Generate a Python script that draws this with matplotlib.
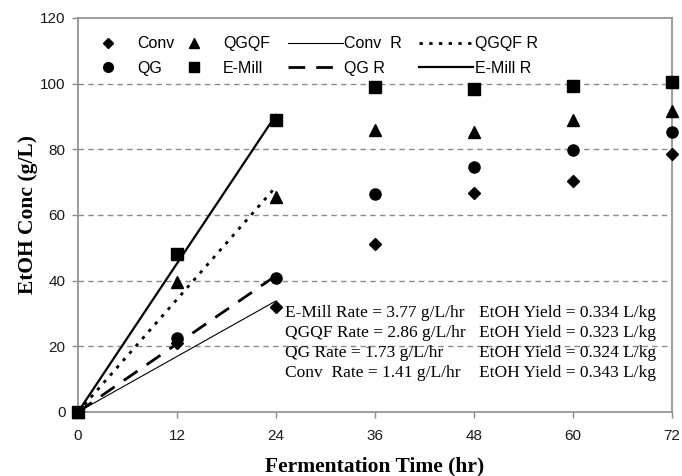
import numpy as np
import matplotlib.pyplot as plt
from matplotlib.lines import Line2D

# fermentation time (hr) and ethanol concentration (g/L)
hours = [0, 12, 24, 36, 48, 60, 72]
conv = [0, 21.1, 32.1, 51.3, 66.6, 70.2, 78.5]
qg = [0, 22.6, 40.9, 66.3, 74.5, 79.7, 85.2]
qgqf = [0, 39.7, 65.6, 85.8, 85.2, 88.9, 91.6]
emill = [0, 48.2, 88.9, 98.9, 98.3, 99.2, 100.5]

# initial-rate fits (g/L/hr) over the first 24 h
rate_hours = [0, 24]
rates = {"Conv": 1.41, "QG": 1.73, "QGQF": 2.86, "E-Mill": 3.77}
yields = {"Conv": 0.343, "QG": 0.324, "QGQF": 0.323, "E-Mill": 0.334}

serif = ["Liberation Serif", "DejaVu Serif"]
sans = ["Liberation Sans", "DejaVu Sans"]
plt.rcParams["font.family"] = sans

fig = plt.figure(figsize=(6.82, 4.76), dpi=100)
ax = fig.add_axes([0.1144, 0.1345, 0.8709, 0.8277])

for y in [20, 40, 60, 80, 100]:
    ax.axhline(y, color="#8c8c8c", lw=1.0, ls=(0, (4, 3)), zorder=0)

dots = (0, (1.2, 2.3))
rt = np.array(rate_hours)
ax.plot(rt, rates["Conv"] * rt, color="black", lw=0.8)
ax.plot(rt, rates["QG"] * rt, color="black", lw=2.0, ls=(0, (6, 4)))
ax.plot(rt, rates["QGQF"] * rt, color="black", lw=2.0, ls=dots)
ax.plot(rt, rates["E-Mill"] * rt, color="black", lw=1.6)

mk = dict(color="black", ls="", clip_on=False, zorder=5)
ax.plot(hours, conv, marker="D", ms=6, **mk)
ax.plot(hours, qg, marker="o", ms=8, **mk)
ax.plot(hours, qgqf, marker="^", ms=8.5, **mk)
ax.plot(hours, emill, marker="s", ms=8, **mk)

ax.set_xlim(0, 72)
ax.set_ylim(0, 120)
ax.set_xticks(hours)
ax.set_yticks(np.arange(0, 121, 20))
for s in ax.spines.values():
    s.set_color("#8c8c8c")
    s.set_linewidth(1.2)
ax.tick_params(direction="out", length=4, width=1.0, color="#8c8c8c",
               labelsize=11, labelcolor="#1a1a1a")
ax.tick_params(axis="x", pad=8)
ax.tick_params(axis="y", pad=5)

ax.set_xlabel("Fermentation Time (hr)", fontsize=15.5, fontweight="bold",
              family=serif, labelpad=10)
ax.set_ylabel("EtOH Conc (g/L)", fontsize=15.5, fontweight="bold",
              family=serif, labelpad=1.5)

# legend: marker entries and rate-line entries in two blocks
mhandles = [
    Line2D([], [], color="black", ls="", marker="D", ms=5.5),
    Line2D([], [], color="black", ls="", marker="o", ms=7),
    Line2D([], [], color="black", ls="", marker="^", ms=7.5),
    Line2D([], [], color="black", ls="", marker="s", ms=6.5),
]
mlabels = ["Conv", "QG", "QGQF", "E-Mill"]
leg1 = ax.legend(mhandles, mlabels, ncol=2, loc="upper left", frameon=False,
                 fontsize=11.5, handlelength=2.0, handletextpad=0.8,
                 columnspacing=0.25, labelspacing=0.62, borderpad=0,
                 borderaxespad=0, bbox_to_anchor=(0.0237, 0.954))
ax.add_artist(leg1)

lhandles = [
    Line2D([], [], color="black", lw=0.8),
    Line2D([], [], color="black", lw=2.0, ls=(0, (6, 4))),
    Line2D([], [], color="black", lw=2.0, ls=dots),
    Line2D([], [], color="black", lw=1.6),
]
llabels = ["Conv  R", "QG R", "QGQF R", "E-Mill R"]
ax.legend(lhandles, llabels, ncol=2, loc="upper left", frameon=False,
          fontsize=11.5, handlelength=3.4, handletextpad=0.1,
          columnspacing=1.05, labelspacing=0.62, borderpad=0,
          borderaxespad=0, bbox_to_anchor=(0.354, 0.954))

order = ["E-Mill", "QGQF", "QG", "Conv"]
left = [f"{k} Rate = {rates[k]:.2f} g/L/hr" for k in order]
left[3] = f"Conv  Rate = {rates['Conv']:.2f} g/L/hr"
right = [f"EtOH Yield = {yields[k]:.3f} L/kg" for k in order]
for i in range(4):
    y0 = 0.252 - i * 0.051
    ax.text(0.3485, y0, left[i], transform=ax.transAxes, family=serif,
            fontsize=12.5, va="center", ha="left")
    ax.text(0.675, y0, right[i], transform=ax.transAxes, family=serif,
            fontsize=12.5, va="center", ha="left")

fig.savefig("out.png", dpi=100)
